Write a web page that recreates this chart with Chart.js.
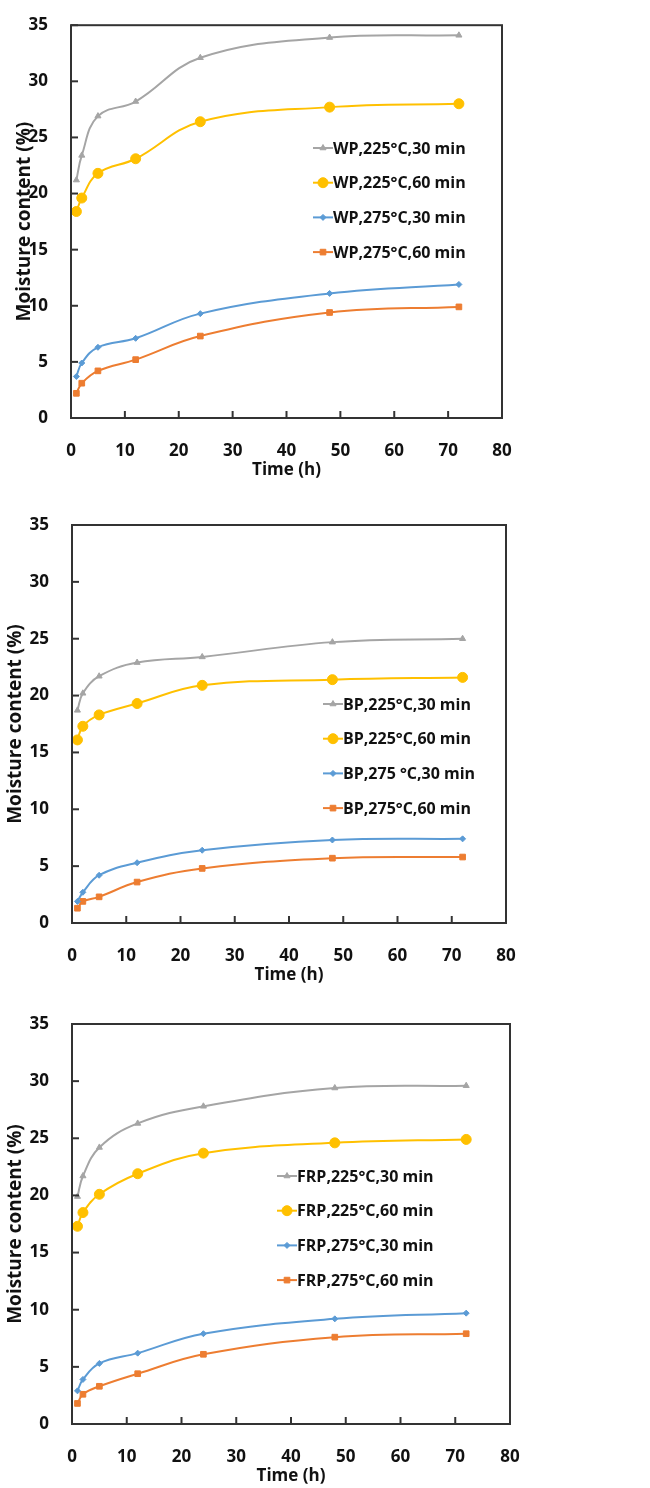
<!DOCTYPE html>
<html>
<head>
<meta charset="utf-8">
<script src="https://cdn.jsdelivr.net/npm/chart.js@4.4.0/dist/chart.umd.min.js"></script>
<style>
  body { margin: 0; background: #fff; }
  .panel { position: absolute; left: 0; }
</style>
</head>
<body>
<canvas id="wpChart" class="panel" width="650" height="490" style="top:0px"></canvas>
<canvas id="bpChart" class="panel" width="650" height="500" style="top:490px"></canvas>
<canvas id="frpChart" class="panel" width="650" height="498" style="top:990px"></canvas>
<script>
// sampling times (h)
const hours = [1, 2, 5, 12, 24, 48, 72];
const xTicks = [0, 10, 20, 30, 40, 50, 60, 70, 80];
const yTicks = [0, 5, 10, 15, 20, 25, 30, 35];

const wpLabels = ["WP,225°C,30 min", "WP,225°C,60 min", "WP,275°C,30 min", "WP,275°C,60 min"];
const wp225_30 = [21.2, 23.4, 26.9, 28.2, 32.1, 33.9, 34.1];
const wp225_60 = [18.4, 19.6, 21.8, 23.1, 26.4, 27.7, 28.0];
const wp275_30 = [3.7, 4.9, 6.3, 7.1, 9.3, 11.1, 11.9];
const wp275_60 = [2.2, 3.1, 4.2, 5.2, 7.3, 9.4, 9.9];

const bpLabels = ["BP,225°C,30 min", "BP,225°C,60 min", "BP,275 °C,30 min", "BP,275°C,60 min"];
const bp225_30 = [18.7, 20.2, 21.7, 22.9, 23.4, 24.7, 25.0];
const bp225_60 = [16.1, 17.3, 18.3, 19.3, 20.9, 21.4, 21.6];
const bp275_30 = [1.9, 2.7, 4.2, 5.3, 6.4, 7.3, 7.4];
const bp275_60 = [1.3, 1.9, 2.3, 3.6, 4.8, 5.7, 5.8];

const frpLabels = ["FRP,225°C,30 min", "FRP,225°C,60 min", "FRP,275°C,30 min", "FRP,275°C,60 min"];
const frp225_30 = [19.9, 21.7, 24.2, 26.3, 27.8, 29.4, 29.6];
const frp225_60 = [17.3, 18.5, 20.1, 21.9, 23.7, 24.6, 24.9];
const frp275_30 = [2.9, 3.9, 5.3, 6.2, 7.9, 9.2, 9.7];
const frp275_60 = [1.8, 2.6, 3.3, 4.4, 6.1, 7.6, 7.9];

// series look, same order in every panel
const styles = [
  { color: "#A5A5A5", pointStyle: "triangle", radius: 3.5 },
  { color: "#FFC000", pointStyle: "circle", radius: 5 },
  { color: "#5B9BD5", pointStyle: "rectRot", radius: 3 },
  { color: "#ED7D31", pointStyle: "rect", radius: 4 }
];

const fontFamily = "'Open Sans', sans-serif";

// box around the plot and inward tick marks
const frameBox = {
  id: "frameBox",
  afterDraw(chart) {
    const { ctx, chartArea: a, scales } = chart;
    ctx.save();
    ctx.strokeStyle = "#333";
    ctx.lineWidth = 2;
    xTicks.forEach(v => {
      const px = scales.x.getPixelForValue(v);
      ctx.beginPath();
      ctx.moveTo(px, a.bottom);
      ctx.lineTo(px, a.bottom - 7);
      ctx.stroke();
    });
    yTicks.forEach(v => {
      const py = scales.y.getPixelForValue(v);
      ctx.beginPath();
      ctx.moveTo(a.left, py);
      ctx.lineTo(a.left + 7, py);
      ctx.stroke();
    });
    ctx.strokeRect(a.left, a.top, a.right - a.left, a.bottom - a.top);
    ctx.restore();
  }
};

// legend placed inside the plot area
const insideLegend = {
  id: "insideLegend",
  afterDraw(chart, args, opts) {
    const ctx = chart.ctx;
    ctx.save();
    chart.data.datasets.forEach((ds, i) => {
      const y = opts.y + i * opts.gap;
      ctx.strokeStyle = ds.borderColor;
      ctx.fillStyle = ds.backgroundColor;
      ctx.lineWidth = 2;
      ctx.beginPath();
      ctx.moveTo(opts.x, y);
      ctx.lineTo(opts.x + 20, y);
      ctx.stroke();
      ctx.lineWidth = 1;
      Chart.helpers.drawPoint(ctx, {
        pointStyle: ds.pointStyle,
        radius: ds.pointRadius,
        borderWidth: 1
      }, opts.x + 10, y);
      ctx.fillStyle = "#111";
      ctx.font = "bold 16px " + fontFamily;
      ctx.textBaseline = "middle";
      ctx.textAlign = "left";
      ctx.fillText(ds.label, opts.x + 20, y + 1);
    });
    ctx.restore();
  }
};

function makeChart(id, labels, series, p) {
  const datasets = series.map((vals, i) => ({
    label: labels[i],
    data: hours.map((h, k) => ({ x: h, y: vals[k] })),
    borderColor: styles[i].color,
    backgroundColor: styles[i].color,
    pointStyle: styles[i].pointStyle,
    pointRadius: styles[i].radius,
    pointBorderWidth: 1,
    borderWidth: 2,
    tension: 0.4
  }));
  const canvas = document.getElementById(id);
  return new Chart(canvas.getContext("2d"), {
    type: "line",
    data: { datasets },
    options: {
      responsive: false,
      animation: false,
      layout: { padding: { top: p.top, right: 650 - p.right, bottom: p.height - p.bottom - 62, left: 0 } },
      plugins: {
        legend: { display: false },
        tooltip: { enabled: false },
        insideLegend: { x: p.legendX, y: p.legendY, gap: 34.7 }
      },
      scales: {
        x: {
          type: "linear",
          min: 0, max: 80,
          grid: { display: false },
          border: { display: false },
          ticks: { stepSize: 10, padding: 15, color: "#111", font: { family: fontFamily, size: 17, weight: "bold" } },
          title: { display: true, text: "Time (h)", color: "#111", padding: { top: 0, bottom: 0 }, font: { family: fontFamily, size: 17, weight: "bold" } },
          afterFit: s => { s.height = 62; }
        },
        y: {
          min: 0, max: 35,
          grid: { display: false },
          border: { display: false },
          ticks: { stepSize: 5, padding: 15, color: "#111", font: { family: fontFamily, size: 17, weight: "bold" } },
          title: { display: true, text: "Moisture content (%)", color: "#111", padding: { top: p.yTitlePad, bottom: 0 }, font: { family: fontFamily, size: 19, weight: "bold" } },
          afterFit: s => { s.width = p.left; }
        }
      }
    },
    plugins: [frameBox, insideLegend]
  });
}

makeChart("wpChart", wpLabels, [wp225_30, wp225_60, wp275_30, wp275_60],
  { height: 490, left: 71, top: 24, right: 502, bottom: 418, yTitlePad: 13, legendX: 313, legendY: 148 });
makeChart("bpChart", bpLabels, [bp225_30, bp225_60, bp275_30, bp275_60],
  { height: 500, left: 72, top: 35, right: 506, bottom: 433, yTitlePad: 4, legendX: 323, legendY: 214 });
makeChart("frpChart", frpLabels, [frp225_30, frp225_60, frp275_30, frp275_60],
  { height: 498, left: 72, top: 34, right: 510, bottom: 434, yTitlePad: 4, legendX: 277, legendY: 186 });
</script>
</body>
</html>
